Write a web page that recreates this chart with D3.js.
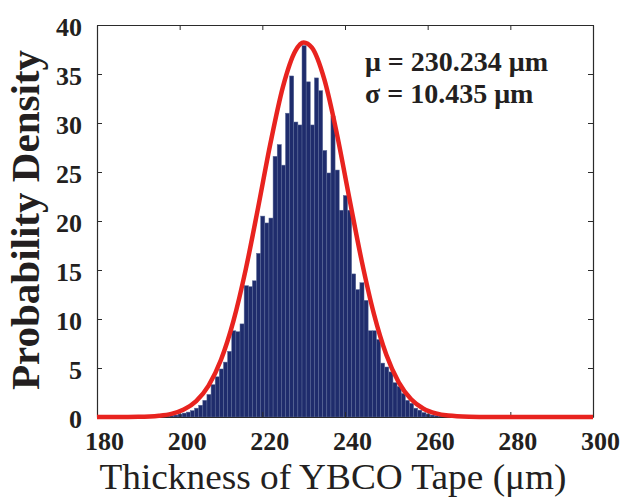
<!DOCTYPE html>
<html>
<head>
<meta charset="utf-8">
<script src="https://cdn.jsdelivr.net/npm/d3@7"></script>
<style>
	body { margin: 0; background: #ffffff; }
	svg { display: block; }
</style>
</head>
<body>
<svg id="chart" width="633" height="498"></svg>
<script>
////////// Data //////////
	// left edge of each 1 µm histogram bin
	const binStarts = [195.6, 196.6, 197.6, 198.6, 199.6, 200.6, 201.6, 202.6, 203.6, 204.6,
		205.6, 206.6, 207.6, 208.6, 209.6, 210.6, 211.6, 212.6, 213.6, 214.6,
		215.6, 216.6, 217.6, 218.6, 219.6, 220.6, 221.6, 222.6, 223.6, 224.6,
		225.6, 226.6, 227.6, 228.6, 229.6, 230.6, 231.6, 232.6, 233.6, 234.6,
		235.6, 236.6, 237.6, 238.6, 239.6, 240.6, 241.6, 242.6, 243.6, 244.6,
		245.6, 246.6, 247.6, 248.6, 249.6, 250.6, 251.6, 252.6, 253.6, 254.6,
		255.6, 256.6, 257.6, 258.6, 259.6, 260.6, 261.6, 262.6, 263.6];
	const binHeights = [0.05, 0.1, 0.15, 0.2, 0.3, 0.4, 0.5, 0.65, 0.9, 1.2,
		1.7, 2.3, 3.3, 4.1, 4.9, 5.6, 6.7, 8.8, 8.7, 9.5,
		13.4, 13.3, 13.9, 16.7, 20.5, 19.8, 20.3, 26.6, 27.8, 25.7,
		31.0, 34.8, 30.1, 29.8, 37.9, 34.2, 29.8, 34.6, 33.3, 27.2,
		24.9, 30.7, 25.2, 21.1, 22.6, 21.1, 14.6, 13.0, 13.7, 11.9,
		8.8, 8.8, 7.9, 5.5, 5.1, 4.6, 3.5, 3.1, 2.4, 1.7,
		1.4, 0.9, 0.7, 0.45, 0.3, 0.2, 0.15, 0.1, 0.05];
	const binWidth = 1;

	// fitted normal curve
	const curveX = [180, 185, 190, 195, 198, 201, 204, 207, 210, 213, 216, 219, 222, 225, 228, 230,
		232, 235, 238, 241, 244, 247, 250, 253, 256, 259, 262, 265, 270, 275, 280, 290, 300];
	const curveY = [0, 0, 0.02, 0.13, 0.32, 0.76, 1.62, 3.21, 5.84, 9.78, 15.09, 21.42, 28.01, 33.72, 37.37, 38.22,
		37.68, 34.44, 28.97, 22.44, 16.01, 10.51, 6.35, 3.54, 1.81, 0.85, 0.37, 0.15, 0.03, 0, 0, 0, 0];

	const xTicks = [180, 200, 220, 240, 260, 280, 300];
	const yTicks = [0, 5, 10, 15, 20, 25, 30, 35, 40];
	const statLines = ['μ = 230.234 μm', 'σ = 10.435 μm'];
	const xTitle = 'Thickness of YBCO Tape (μm)';
	const yTitle = 'Probability Density';

////////// Layout & styles //////////
	const plot = { left: 97, right: 593, top: 25, bottom: 417 };
	const serif = '"Liberation Serif", "Times New Roman", serif';
	const textColor = '#231f20';
	const barColor = '#1f2c6c';
	const barEdge = '#5b6a98';
	const curveColor = '#e8231f';
	const frameColor = '#2b2b2b';
	const tickLen = 5;
	const tickFont = `bold 26px ${serif}`;

	const svg = d3.select('#chart');

	const x = d3.scaleLinear().domain([180, 300]).range([plot.left, plot.right]);
	const y = d3.scaleLinear().domain([0, 40]).range([plot.bottom, plot.top]);

	const bins = binStarts.map((s, i) => ({ x0: s, x1: s + binWidth, h: binHeights[i] }));

////////// Bars //////////
	svg.append('g')
		.attr('class', 'bars')
		.selectAll('rect')
		.data(bins)
		.enter().append('rect')
			.attr('x', d => x(d.x0))
			.attr('width', d => x(d.x1) - x(d.x0))
			.attr('y', d => y(d.h))
			.attr('height', d => y(0) - y(d.h))
			.attr('fill', barColor)
			.attr('stroke', barEdge)
			.attr('stroke-width', 0.5);

////////// Axes (box with inward ticks) //////////
	const styleAxis = g => {
		g.select('.domain').attr('stroke', frameColor).attr('stroke-width', 1.2);
		g.selectAll('.tick line').attr('stroke', frameColor).attr('stroke-width', 1);
	};

	const bottomAxis = svg.append('g')
		.attr('transform', `translate(0, ${plot.bottom})`)
		.call(d3.axisBottom(x).tickValues(xTicks).tickSizeInner(-tickLen).tickSizeOuter(0).tickPadding(15))
		.call(styleAxis);
	bottomAxis.selectAll('.tick text')
		.attr('dx', 7)
		.style('font', tickFont)
		.attr('fill', textColor);

	svg.append('g')
		.attr('transform', `translate(0, ${plot.top})`)
		.call(d3.axisTop(x).tickValues(xTicks).tickSizeInner(-tickLen).tickSizeOuter(0).tickFormat(''))
		.call(styleAxis);

	const leftAxis = svg.append('g')
		.attr('transform', `translate(${plot.left}, 0)`)
		.call(d3.axisLeft(y).tickValues(yTicks).tickSizeInner(-tickLen).tickSizeOuter(0).tickPadding(15))
		.call(styleAxis);
	leftAxis.selectAll('.tick text')
		.attr('dy', '0.42em')
		.style('font', tickFont)
		.attr('fill', textColor);

	svg.append('g')
		.attr('transform', `translate(${plot.right}, 0)`)
		.call(d3.axisRight(y).tickValues(yTicks).tickSizeInner(-tickLen).tickSizeOuter(0).tickFormat(''))
		.call(styleAxis);

////////// Fitted curve //////////
	const line = d3.line()
		.x(d => x(d[0]))
		.y(d => y(d[1]))
		.curve(d3.curveMonotoneX);

	svg.append('path')
		.datum(curveX.map((cx, i) => [cx, curveY[i]]))
		.attr('d', line)
		.attr('fill', 'none')
		.attr('stroke', curveColor)
		.attr('stroke-width', 4.5)
		.attr('stroke-linejoin', 'round');

////////// Texts //////////
	svg.append('g')
		.selectAll('text')
		.data(statLines)
		.enter().append('text')
			.attr('x', 365)
			.attr('y', (d, i) => 71 + i * 32)
			.style('font', `bold 28px ${serif}`)
			.attr('fill', textColor)
			.text(d => d);

	svg.append('text')
		.attr('x', 333)
		.attr('y', 489)
		.attr('text-anchor', 'middle')
		.attr('textLength', 467)
		.attr('lengthAdjust', 'spacingAndGlyphs')
		.style('font', `35px ${serif}`)
		.attr('fill', textColor)
		.text(xTitle);

	svg.append('text')
		.attr('transform', 'translate(39, 220) rotate(-90)')
		.attr('text-anchor', 'middle')
		.attr('textLength', 340)
		.attr('lengthAdjust', 'spacingAndGlyphs')
		.style('font', `bold 40px ${serif}`)
		.attr('fill', textColor)
		.text(yTitle);
</script>
</body>
</html>
